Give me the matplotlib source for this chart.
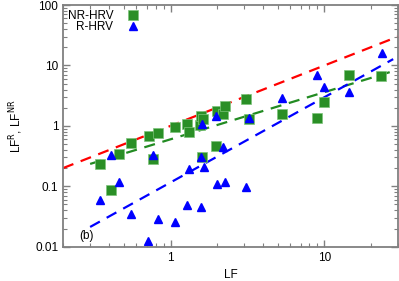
import numpy as np
import matplotlib
matplotlib.use("Agg")
import matplotlib.pyplot as plt
from matplotlib.ticker import LogLocator, NullFormatter, FixedLocator, FixedFormatter

plt.rcParams['font.family'] = ['Liberation Sans', 'DejaVu Sans']

# NR-HRV (green squares)
nr_lf = [0.35, 0.41, 0.46, 0.55, 0.72, 0.77, 0.83, 1.07, 1.27, 1.32, 1.55, 1.57, 1.63,
         1.59, 1.96, 1.99, 2.18, 2.26, 3.09, 3.23, 5.33, 9.0, 9.95, 14.5, 23.4]
nr_val = [0.23, 0.087, 0.34, 0.52, 0.69, 0.285, 0.76, 0.97, 1.07, 0.80, 1.03, 1.48, 1.29,
          0.31, 0.47, 1.77, 1.58, 2.14, 2.76, 1.31, 1.58, 1.34, 2.52, 6.97, 6.7]

# R-HRV (blue triangles)
r_lf = [0.35, 0.41, 0.46, 0.55, 0.715, 0.77, 0.83, 1.07, 1.27, 1.32, 1.57, 1.57, 1.59,
        1.65, 1.97, 2.01, 2.18, 2.26, 3.09, 3.23, 5.33, 9.0, 9.95, 14.5, 23.6]
r_val = [0.06, 0.33, 0.12, 0.035, 0.0124, 0.33, 0.0287, 0.026, 0.049, 0.19, 0.045, 0.31, 1.08,
         0.207, 1.47, 0.11, 0.445, 0.12, 0.097, 1.34, 2.95, 6.97, 4.46, 3.6, 15.9]

# power-law fits  y = a * x**b
nr_fit = (0.6, 0.78)
r_fit = (0.116, 1.41)
fit_range = (0.3, 28)

fig = plt.figure(figsize=(3.99, 2.81), dpi=100)
ax = fig.add_axes([0.158, 0.122, 0.839, 0.860])
ax.set_xscale('log')
ax.set_yscale('log')

# identity line
xr = np.array([0.2, 30])
ax.plot(xr, xr, color='#ff0000', lw=1.6, dashes=(5, 3.5))

xf = np.geomspace(*fit_range, 50)
ax.plot(xf, nr_fit[0] * xf ** nr_fit[1], color='#228b22', lw=1.6, dashes=(5, 3.5))
ax.plot(xf, r_fit[0] * xf ** r_fit[1], color='#0000ff', lw=1.6, dashes=(5, 3.5))

ax.plot(nr_lf, nr_val, 's', color='#2a8f26', mec='#7cc47a', mew=0.5, ms=6.5,
        ls='none', label='NR-HRV')
ax.plot(r_lf, r_val, '^', color='#0000ff', mec='#0000ff', ms=6, ls='none', label='R-HRV')

ax.set_xlim(0.2, 30)
ax.set_ylim(0.01, 100)

ax.xaxis.set_major_locator(FixedLocator([1, 10]))
ax.xaxis.set_major_formatter(FixedFormatter(['1', '10']))
ax.xaxis.set_minor_locator(LogLocator(base=10, subs=np.arange(2, 10)))
ax.xaxis.set_minor_formatter(NullFormatter())
ax.yaxis.set_major_locator(FixedLocator([0.01, 0.1, 1, 10, 100]))
ax.yaxis.set_major_formatter(FixedFormatter(['0.01', '0.1', '1', '10', '100']))
ax.yaxis.set_minor_locator(LogLocator(base=10, subs=np.arange(2, 10)))
ax.yaxis.set_minor_formatter(NullFormatter())

for s in ax.spines.values():
    s.set_color('#808080')
    s.set_linewidth(1.3)
ax.tick_params(which='both', direction='in', top=True, right=True, color='#808080',
               labelsize=8.5)
ax.tick_params(which='major', length=5, width=1)
ax.tick_params(which='minor', length=3, width=0.8)

ax.set_xlabel('LF', fontsize=8.5, labelpad=4)
ax.set_ylabel('LF$^{\\rm R}$, LF$^{\\rm NR}$', fontsize=8.5, labelpad=7)
ax.text(0.284, 0.0152, '(b)', fontsize=8.5, ha='center', va='center')

ax.legend(loc='upper left', markerfirst=False, frameon=False, fontsize=8.5,
          handlelength=1.0, handletextpad=1.2, borderpad=0.1, labelspacing=-0.05,
          borderaxespad=0.3)

fig.savefig('out.png', dpi=100)
